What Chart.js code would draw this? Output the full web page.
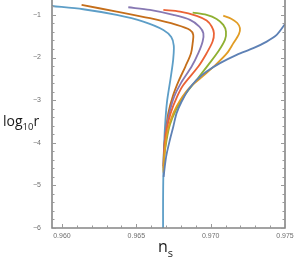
<!DOCTYPE html>
<html>
<head>
<meta charset="utf-8">
<script src="https://cdn.jsdelivr.net/npm/chart.js@4.4.1/dist/chart.umd.min.js"></script>
<style>
html,body{margin:0;padding:0;background:#fff;}
canvas{display:block;}
</style>
</head>
<body>
<canvas id="c" width="294" height="258"></canvas>
<script>
// x tick labels (n_s) and y tick labels (log10 r)
const xTicks = [0.960, 0.965, 0.970, 0.975];
const yTicks = [-6, -5, -4, -3, -2, -1];

// Each series: n_s values and log10 r values
const lightBlueNs = [0.95930,0.96143,0.96368,0.96547,0.96682,0.96735,0.96752,0.96748,0.96730,0.96706,0.96693,0.96686,0.96682,0.96680,0.96680];
const lightBlueR  = [-0.789,-0.867,-1.000,-1.156,-1.352,-1.520,-1.720,-2.050,-2.500,-3.050,-3.617,-4.164,-4.711,-5.336,-6.000];

const brownNs = [0.96132,0.96368,0.96592,0.96771,0.96861,0.96883,0.96879,0.96868,0.96830,0.96785,0.96745,0.96715,0.96700,0.96688,0.96683];
const brownR  = [-0.766,-0.922,-1.078,-1.234,-1.352,-1.469,-1.664,-1.898,-2.211,-2.550,-2.914,-3.305,-3.695,-4.086,-4.550];

const purpleNs = [0.96446,0.96592,0.96749,0.96861,0.96924,0.96951,0.96946,0.96917,0.96872,0.96800,0.96755,0.96722,0.96700,0.96686,0.96683];
const purpleR  = [-0.820,-0.883,-1.000,-1.117,-1.273,-1.430,-1.625,-1.898,-2.211,-2.600,-2.914,-3.305,-3.695,-4.164,-4.550];

const redNs = [0.96682,0.96794,0.96906,0.96973,0.97007,0.97022,0.97013,0.96973,0.96917,0.96815,0.96775,0.96731,0.96704,0.96688,0.96683];
const redR  = [-0.883,-0.922,-1.023,-1.133,-1.273,-1.430,-1.625,-1.898,-2.211,-2.650,-2.914,-3.305,-3.695,-4.164,-4.600];

const greenNs = [0.96879,0.96973,0.97040,0.97085,0.97103,0.97096,0.97051,0.96984,0.96906,0.96827,0.96767,0.96726,0.96704,0.96688,0.96683];
const greenR  = [-0.945,-1.000,-1.094,-1.234,-1.391,-1.586,-1.859,-2.172,-2.523,-2.875,-3.227,-3.578,-3.930,-4.320,-4.650];

const orangeNs = [0.97085,0.97141,0.97179,0.97197,0.97190,0.97150,0.97110,0.97040,0.96960,0.96860,0.96795,0.96749,0.96715,0.96697,0.96687,0.96683];
const orangeR  = [-1.016,-1.094,-1.190,-1.310,-1.450,-1.680,-1.898,-2.150,-2.400,-2.700,-3.000,-3.305,-3.656,-4.008,-4.398,-4.700];

const blueNs = [0.97500,0.97444,0.97377,0.97287,0.97175,0.97063,0.96973,0.96906,0.96850,0.96805,0.96771,0.96749,0.96726,0.96702,0.96690,0.96684];
const blueR  = [-1.215,-1.469,-1.626,-1.780,-1.937,-2.132,-2.329,-2.523,-2.758,-3.032,-3.304,-3.618,-3.930,-4.300,-4.600,-4.800];

function pts(xs, ys){ return xs.map((x,i)=>({x:x, y:ys[i]})); }
function ds(xs, ys, color){
  return {data: pts(xs, ys), borderColor: color, borderWidth: 1.8, pointRadius: 0,
          showLine: true, fill: false, tension: 0.3};
}

const frameColor = '#858585';
const framePlugin = {
  id: 'frame',
  afterDraw(chart){
    const ctx = chart.ctx, a = chart.chartArea;
    const xs = chart.scales.x, ys = chart.scales.y;
    ctx.save();
    ctx.strokeStyle = frameColor;
    ctx.lineWidth = 1.6;
    ctx.beginPath();
    ctx.moveTo(a.left, a.top); ctx.lineTo(a.left, a.bottom);
    ctx.lineTo(a.right, a.bottom); ctx.lineTo(a.right, a.top);
    ctx.stroke();
    ctx.lineWidth = 1;
    ctx.strokeStyle = '#999';
    ctx.beginPath();
    // y ticks (major + minor), inward on both sides
    for (let k = -30; k <= -3; k++) {
      const v = k / 5;
      if (v < ys.min - 1e-9 || v > ys.max) continue;
      const p = Math.round(ys.getPixelForValue(v)) + 0.5;
      const len = (k % 5 === 0) ? 4 : 2.5;
      ctx.moveTo(a.left, p); ctx.lineTo(a.left + len, p);
      ctx.moveTo(a.right, p); ctx.lineTo(a.right - len, p);
    }
    // x ticks
    for (let k = 960; k <= 975; k++) {
      const v = k / 1000;
      if (v < xs.min || v > xs.max + 1e-9) continue;
      const p = Math.round(xs.getPixelForValue(v)) + 0.5;
      const len = (k % 5 === 0) ? 4 : 2.5;
      ctx.moveTo(p, a.bottom); ctx.lineTo(p, a.bottom - len);
    }
    ctx.stroke();

    // axis titles
    ctx.fillStyle = '#1a1a1a';
    ctx.textBaseline = 'alphabetic';
    ctx.textAlign = 'left';
    let x = 3;
    ctx.font = '14px "Open Sans", sans-serif';
    ctx.fillText('log', x, 126); x += ctx.measureText('log').width;
    ctx.font = '9.5px "Open Sans", sans-serif';
    ctx.fillText('10', x, 129.5); x += ctx.measureText('10').width;
    ctx.font = '14px "Open Sans", sans-serif';
    ctx.fillText('r', x, 126);

    x = 158;
    ctx.font = '16px "Open Sans", sans-serif';
    ctx.fillText('n', x, 252); x += ctx.measureText('n').width;
    ctx.font = '11px "Open Sans", sans-serif';
    ctx.fillText('s', x, 256.5);
    ctx.restore();
  }
};

new Chart(document.getElementById('c'), {
  type: 'scatter',
  data: {
    datasets: [
      ds(blueNs, blueR, '#5E81B5'),
      ds(orangeNs, orangeR, '#E19C24'),
      ds(greenNs, greenR, '#8FB032'),
      ds(redNs, redR, '#EB6235'),
      ds(purpleNs, purpleR, '#8778B3'),
      ds(brownNs, brownR, '#C56E1A'),
      ds(lightBlueNs, lightBlueR, '#5D9EC7')
    ]
  },
  options: {
    responsive: false,
    animation: false,
    events: [],
    layout: {padding: {left: 0, right: 9, top: 0, bottom: 0}},
    plugins: {legend: {display: false}, tooltip: {enabled: false}},
    scales: {
      x: {
        type: 'linear', min: 0.95933, max: 0.975,
        grid: {display: false, drawTicks: false},
        border: {display: false},
        afterBuildTicks(s){ s.ticks = xTicks.map(v => ({value: v})); },
        afterFit(s){ s.height = 30; s.paddingLeft = 0; s.paddingRight = 0; },
        ticks: {
          padding: 4, color: '#6e6e6e', maxRotation: 0, autoSkip: false,
          font: {family: 'Liberation Sans, Arial, sans-serif', size: 7},
          callback: v => v.toFixed(3)
        }
      },
      y: {
        type: 'linear', min: -6, max: -0.65,
        grid: {display: false, drawTicks: false},
        border: {display: false},
        afterBuildTicks(s){ s.ticks = yTicks.map(v => ({value: v})); },
        afterFit(s){ s.width = 52; s.paddingTop = 0; s.paddingBottom = 0; },
        ticks: {
          padding: 11, color: '#6e6e6e', autoSkip: false,
          font: {family: 'Liberation Sans, Arial, sans-serif', size: 7},
          callback: v => String(v).replace('-', '\u2212')
        }
      }
    }
  },
  plugins: [framePlugin]
});
</script>
</body>
</html>
